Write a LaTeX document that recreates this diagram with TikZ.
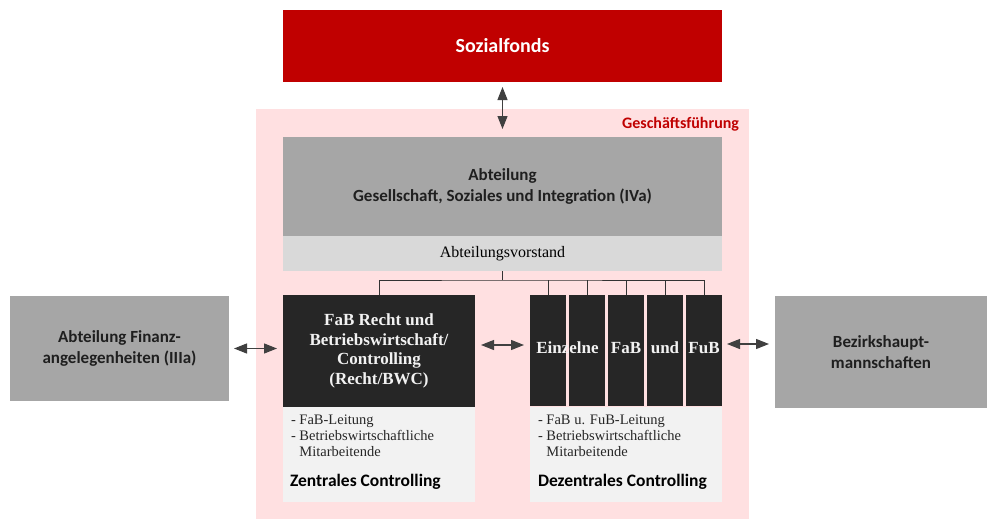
\documentclass[tikz,border=0pt]{standalone}
\usepackage{fontspec}
\setmainfont{Liberation Serif}
\newfontfamily\calibri{Carlito}
\usetikzlibrary{arrows.meta}
\usetikzlibrary{positioning}
\usetikzlibrary{calc}
\definecolor{sfred}{HTML}{C00000}
\definecolor{gfpink}{HTML}{FFE0E1}
\definecolor{deptgray}{HTML}{A6A6A6}
\definecolor{boardgray}{HTML}{D9D9D9}
\definecolor{infogray}{HTML}{F2F2F2}
\definecolor{unitdark}{HTML}{262626}
\definecolor{arrowgray}{HTML}{404040}
\newcommand{\colnode}[2]{\node(#1)[column] at (#2,350.5) {}}
\newcommand{\coltext}[2]{\node[coltxt] at (#1,348) {#2}}

\begin{document}
\begin{tikzpicture}[
        x=1pt, y=-1pt,
        every node/.style={inner sep=0pt, outer sep=0pt},
        dept/.style={rectangle, fill=deptgray, text=black!88,
                     font=\calibri\bfseries\fontsize{17}{21}\selectfont, align=center},
        unit/.style={rectangle, fill=unitdark, text=infogray,
                     font=\bfseries\fontsize{17}{19.5}\selectfont, align=center},
        column/.style={rectangle, fill=unitdark, minimum width=36, minimum height=111},
        coltxt/.style={text=infogray, font=\bfseries\fontsize{17}{19.5}\selectfont},
        info/.style={rectangle, fill=infogray, minimum height=95},
        listtxt/.style={anchor=north west, align=left, text=black!85,
                        font=\fontsize{14.5}{16}\selectfont},
        titletxt/.style={anchor=west, font=\calibri\bfseries\fontsize{17.5}{20}\selectfont},
        dblarrow/.style={{Triangle[length=13pt,width=10pt]}-{Triangle[length=13pt,width=10pt]},
                         draw=arrowgray, line width=1.1pt},
        tree/.style={draw=black!80, line width=0.8pt}
      ]
      \useasboundingbox (0,0) rectangle (987,519);
      % Geschaeftsfuehrung background
      \fill[gfpink] (256,109) rectangle (749,519);
      \node[anchor=east, text=sfred, font=\calibri\bfseries\fontsize{16}{18}\selectfont] (gf) at (739,124) {Geschäftsführung};

      \node(sozial)[rectangle, fill=sfred, text=white, minimum width=439, minimum height=72,
                    font=\calibri\bfseries\fontsize{20}{24}\selectfont] at (502.5,46) {Sozialfonds};
      \node(abt)[dept, minimum width=439, minimum height=99] at (502.5,186.5)
            {Abteilung\\Gesellschaft, Soziales und Integration (IVa)};
      \node(vorstand)[rectangle, fill=boardgray, minimum width=439, minimum height=35,
                      font=\fontsize{16}{19}\selectfont, below=0pt of abt] {Abteilungsvorstand};

      % zentral
      \node(recht)[unit, minimum width=192, minimum height=112] at (379,351)
            {FaB Recht und\\Betriebswirtschaft/\\Controlling\\(Recht/BWC)};
      \node(rechtinfo)[info, minimum width=192, below=0pt of recht] {};
      \node(rechtlist)[listtxt] at ([xshift=8pt,yshift=-8pt]rechtinfo.north west)
            {- FaB-Leitung\\- Betriebswirtschaftliche\\\phantom{-} Mitarbeitende};
      \node(rechttitle)[titletxt] at (290,482) {Zentrales Controlling};

      % dezentral
      \colnode{col1}{548}; \colnode{col2}{587}; \colnode{col3}{626}; \colnode{col4}{665}; \colnode{col5}{704};
      \coltext{567.5}{Einzelne}; \coltext{626}{FaB}; \coltext{665}{und}; \coltext{704}{FuB};
      \node(dezinfo)[info, minimum width=192, anchor=north west] at (530,407) {};
      \node(dezlist)[listtxt] at ([xshift=8pt,yshift=-8pt]dezinfo.north west)
            {- FaB u. FuB-Leitung\\- Betriebswirtschaftliche\\\phantom{-} Mitarbeitende};
      \node(deztitle)[titletxt] at (538,482) {Dezentrales Controlling};

      % aussen
      \node(finanz)[dept, minimum width=219, minimum height=105] at (119.5,348.5)
            {Abteilung Finanz-\\angelegenheiten (IIIa)};
      \node(bezirk)[dept, minimum width=212, minimum height=112] at (881,352)
            {Bezirkshaupt-\\mannschaften};

      % Organigramm-Linien
      \draw[tree] (vorstand.south) -- ++(0,9) coordinate (bus);
      \draw[tree] (recht.north) |- (bus) -| (col5.north);
      \draw[tree] (col1.north) -- (col1.north |- bus); \draw[tree] (col2.north) -- (col2.north |- bus); \draw[tree] (col3.north) -- (col3.north |- bus); \draw[tree] (col4.north) -- (col4.north |- bus);

      % Pfeile
      \draw[dblarrow, shorten <=5pt, shorten >=8pt] (sozial.south) -- (abt.north);
      \draw[dblarrow, shorten <=5pt, shorten >=6pt] (finanz.east) -- (finanz.east -| recht.west);
      \draw[dblarrow, shorten <=6pt, shorten >=6pt] ([yshift=6pt]recht.east) -- ([yshift=6pt]recht.east -| col1.west);
      \draw[dblarrow, shorten <=5pt, shorten >=6pt] ([yshift=8pt]bezirk.west -| col5.east) -- ([yshift=8pt]bezirk.west);
    \end{tikzpicture}
\end{document}
